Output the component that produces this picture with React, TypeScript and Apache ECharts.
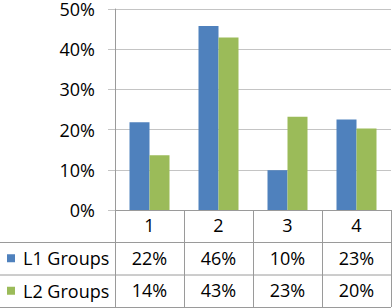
import React, { useEffect, useRef } from "react";
import * as echarts from "echarts";

const categories = ["1", "2", "3", "4"];
const seriesNames = ["L1 Groups", "L2 Groups"];
const l1Values = [21.8, 45.8, 9.9, 22.5];
const l2Values = [13.6, 42.9, 23.2, 20.3];
const yMax = 50;
const yInterval = 10;

const W = 392;
const H = 308;
const GRID_LEFT = 115;
const GRID_RIGHT = 1;
const GRID_TOP = 7;
const GRID_BOTTOM = 98;
const ROW_H = 32.5;
const FONT = "'Open Sans', 'Noto Sans', sans-serif";
const AXIS = "#9a9a9a";
const GRIDC = "#c4c4c4";
const COLORS = ["#4f81bd", "#9bbb59"];

export default function App() {
  const ref = useRef<HTMLDivElement>(null);
  useEffect(() => {
    document.body.style.margin = "0";
    if (!ref.current) return;
    const chart = echarts.init(ref.current, undefined, { renderer: "svg" });
    const tableTop = H - GRID_BOTTOM;
    const right = W - GRID_RIGHT;
    const hLines = [1, 2, 3].map((i) => ({
      type: "line",
      shape: { x1: 0, y1: tableTop + ROW_H * i, x2: right, y2: tableTop + ROW_H * i },
      style: { stroke: AXIS, lineWidth: 1 },
      silent: true,
    }));
    const legendItems: any[] = [];
    seriesNames.forEach((name, i) => {
      const cy = tableTop + ROW_H * (i + 1.5) - 0.5;
      legendItems.push({
        type: "rect",
        shape: { x: 7, y: cy - 4, width: 8, height: 8 },
        style: { fill: COLORS[i] },
        silent: true,
      });
      legendItems.push({
        type: "text",
        x: 23,
        y: cy,
        style: { text: name, fontSize: 18, fontFamily: FONT, fill: "#000", verticalAlign: "middle", align: "left" },
        silent: true,
      });
    });
    chart.setOption({
      animation: false,
      textStyle: { fontFamily: FONT },
      grid: { left: GRID_LEFT, right: GRID_RIGHT, top: GRID_TOP, bottom: GRID_BOTTOM, containLabel: false },
      xAxis: {
        type: "category",
        data: categories,
        axisLine: { show: true, lineStyle: { color: AXIS } },
        axisTick: { show: true, length: GRID_BOTTOM - 1, lineStyle: { color: AXIS } },
        axisLabel: {
          margin: -1,
          color: "#000",
          fontFamily: FONT,
          formatter: (value: string, index: number) =>
            `{c|${value}}\n{v|${Math.round(l1Values[index])}%}\n{v|${Math.round(l2Values[index])}%}`,
          rich: {
            c: { fontSize: 18, lineHeight: ROW_H, fontFamily: FONT, color: "#000" },
            v: { fontSize: 18, lineHeight: ROW_H, fontFamily: FONT, color: "#000" },
          },
        },
      },
      yAxis: {
        type: "value",
        min: 0,
        max: yMax,
        interval: yInterval,
        axisLine: { show: true, lineStyle: { color: AXIS } },
        axisTick: { show: true, length: 7, lineStyle: { color: GRIDC } },
        splitLine: { show: true, lineStyle: { color: GRIDC } },
        axisLabel: { formatter: "{value}%", fontSize: 18, lineHeight: 14, color: "#000", margin: 20, fontFamily: FONT },
      },
      series: [
        { name: seriesNames[0], type: "bar", data: l1Values, barWidth: 20, barGap: "0%", itemStyle: { color: COLORS[0] } },
        { name: seriesNames[1], type: "bar", data: l2Values, barWidth: 20, barGap: "0%", itemStyle: { color: COLORS[1] } },
      ],
      graphic: [...hLines, ...legendItems],
    });
    return () => chart.dispose();
  }, []);
  return <div ref={ref} style={{ width: W, height: H }} />;
}
